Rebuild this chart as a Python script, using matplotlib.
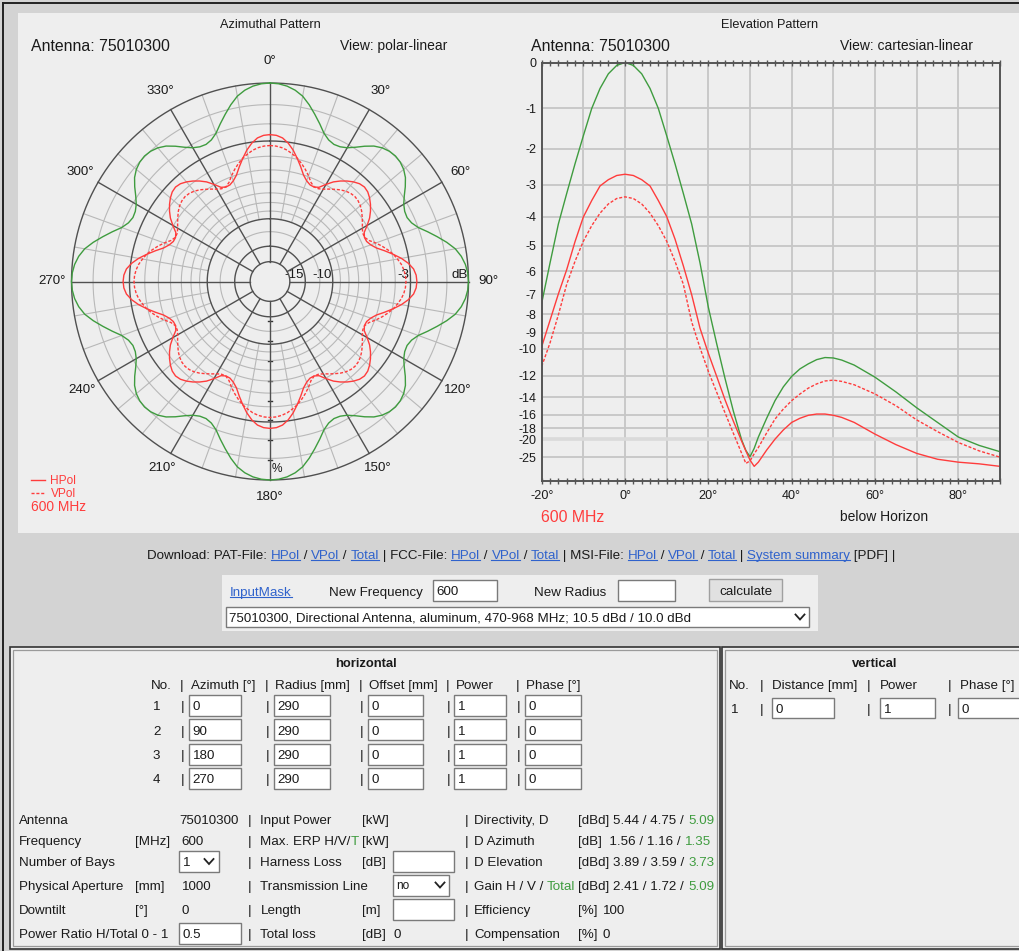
import numpy as np
import matplotlib
matplotlib.use("Agg")
import matplotlib.pyplot as plt
from matplotlib.patches import Rectangle

plt.rcParams['font.family'] = ['Liberation Sans', 'DejaVu Sans']

W, H = 1019, 951

# ---------------------------------------------------------------- data
# Azimuth pattern, relative field, one quadrant (four panels at 0/90/180/270 deg)
az_quadrant_deg = [i * 2.5 for i in range(36)]
az_hpol = [0.740, 0.737, 0.726, 0.703, 0.672, 0.635, 0.598, 0.562, 0.540, 0.527,
           0.525, 0.535, 0.565, 0.595, 0.618, 0.638, 0.655, 0.668, 0.673,
           0.668, 0.655, 0.638, 0.618, 0.595, 0.565, 0.535, 0.525, 0.527, 0.540,
           0.562, 0.598, 0.635, 0.672, 0.703, 0.726, 0.737]
az_vpol = [0.685, 0.683, 0.677, 0.667, 0.652, 0.636, 0.615, 0.592, 0.567, 0.540,
           0.526, 0.527, 0.537, 0.552, 0.567, 0.582, 0.594, 0.602, 0.605,
           0.602, 0.594, 0.582, 0.567, 0.552, 0.537, 0.527, 0.526, 0.540, 0.567,
           0.592, 0.615, 0.636, 0.652, 0.667, 0.677, 0.683]
az_total = [1.000, 0.997, 0.988, 0.972, 0.948, 0.912, 0.872, 0.833, 0.795, 0.772,
            0.762, 0.765, 0.778, 0.802, 0.832, 0.860, 0.879, 0.890, 0.894,
            0.890, 0.879, 0.860, 0.832, 0.802, 0.778, 0.765, 0.762, 0.772, 0.795,
            0.833, 0.872, 0.912, 0.948, 0.972, 0.988, 0.997]

# Elevation pattern, relative field vs. angle below horizon
el_deg = [-20, -18, -16, -14, -12, -10, -8, -6, -4, -2, 0, 2, 4, 6, 8, 10, 12, 14, 16, 18,
          20, 22, 24, 26, 28, 29, 30, 31, 32, 34, 36, 38, 40, 42, 44, 46, 48, 50, 52, 55,
          60, 65, 70, 75, 80, 85, 90]
el_total = [0.425, 0.521, 0.614, 0.687, 0.758, 0.825, 0.890, 0.938, 0.973, 0.993, 1.000,
            0.993, 0.973, 0.938, 0.890, 0.825, 0.758, 0.687, 0.614, 0.521,
            0.415, 0.328, 0.245, 0.167, 0.098, 0.073, 0.058, 0.078, 0.105, 0.150, 0.192,
            0.225, 0.250, 0.268, 0.280, 0.290, 0.295, 0.294, 0.289, 0.277,
            0.248, 0.213, 0.175, 0.140, 0.105, 0.085, 0.070]
el_hpol = [0.321, 0.384, 0.447, 0.505, 0.572, 0.631, 0.670, 0.705, 0.720, 0.730, 0.733,
           0.730, 0.720, 0.705, 0.670, 0.632, 0.578, 0.514, 0.445, 0.365,
           0.305, 0.250, 0.194, 0.143, 0.095, 0.072, 0.050, 0.035, 0.045, 0.074, 0.100,
           0.122, 0.140, 0.150, 0.157, 0.160, 0.160, 0.157, 0.152, 0.140,
           0.112, 0.087, 0.066, 0.052, 0.045, 0.041, 0.035]
el_vpol = [0.274, 0.330, 0.397, 0.470, 0.525, 0.573, 0.610, 0.640, 0.662, 0.675, 0.679,
           0.675, 0.662, 0.640, 0.610, 0.573, 0.525, 0.470, 0.380, 0.318,
           0.262, 0.212, 0.163, 0.114, 0.066, 0.042, 0.048, 0.065, 0.080, 0.115, 0.148,
           0.172, 0.192, 0.208, 0.222, 0.232, 0.239, 0.241, 0.238, 0.230,
           0.208, 0.180, 0.146, 0.118, 0.092, 0.072, 0.057]

el_ytick_db = [0, -1, -2, -3, -4, -5, -6, -7, -8, -9, -10, -12, -14, -16, -18, -20, -25]
el_xticks = [-20, 0, 20, 40, 60, 80]
polar_bold_db = [0, -3, -10, -15, -20]
polar_thin_db = [-1, -2, -4, -5, -6, -7, -8, -9, -12]
polar_label_db = [(-15, '-15'), (-10, '-10'), (-3, '-3'), (0, 'dB')]

# horizontal array table
h_rows = [('1', '0', '290', '0', '1', '0'),
          ('2', '90', '290', '0', '1', '0'),
          ('3', '180', '290', '0', '1', '0'),
          ('4', '270', '290', '0', '1', '0')]

GREEN = '#3f9c3f'
RED = '#ff3c3c'
LINK = '#2f62cc'
TXT = '#1a1a1a'

# ---------------------------------------------------------------- page
fig = plt.figure(figsize=(W / 100, H / 100), dpi=100, facecolor='#d3d3d3')
bg = fig.add_axes([0, 0, 1, 1])
bg.set_xlim(0, W)
bg.set_ylim(H, 0)
bg.axis('off')
renderer = fig.canvas.get_renderer()


def px(pt):
    return pt * 100 / 72


def txt(x, y, s, size=9.6, color=TXT, ha='left', weight='normal'):
    return bg.text(x, y + 0.36 * px(size), s, fontsize=size, color=color, ha=ha,
                   va='baseline', fontweight=weight)


def measure(s, size, weight='normal'):
    a = bg.text(0, 0, '|' + s + '|', fontsize=size, fontweight=weight)
    b = bg.text(0, 0, '||', fontsize=size, fontweight=weight)
    w = a.get_window_extent(renderer).width - b.get_window_extent(renderer).width
    a.remove()
    b.remove()
    return w


def chain(x, y, parts, size=9.6):
    for s, color, link in parts:
        w = measure(s, size)
        txt(x, y, s, size, color)
        if link:
            yu = y + 0.36 * px(size) + 1.6
            bg.plot([x, x + w], [yu, yu], color=color, lw=0.8)
        x += w
    return x


def field(x0, y0, x1, y1, s='', size=9.6):
    bg.add_patch(Rectangle((x0, y0), x1 - x0, y1 - y0, facecolor='white',
                           edgecolor='#7a7a7a', lw=1.0))
    if s:
        txt(x0 + 3.5, (y0 + y1) / 2, s, size)


def chevron(xc, yc):
    bg.plot([xc - 4.5, xc, xc + 4.5], [yc - 2.5, yc + 2.5, yc - 2.5], color='#222', lw=1.3,
            solid_joinstyle='miter')


# frame lines and panels
bg.plot([3, W + 5], [3, 3], color='#222', lw=1.4)
bg.plot([3, 3], [3, H + 5], color='#222', lw=1.4)
bg.add_patch(Rectangle((18.5, 13), W, 520, facecolor='#eeeeee', edgecolor='none'))
bg.add_patch(Rectangle((222, 575), 596, 56, facecolor='#eeeeee', edgecolor='none'))
for x0, x1 in [(10, 720), (722, W + 10)]:
    bg.add_patch(Rectangle((x0, 647), x1 - x0, 302, facecolor='#eeeeee', edgecolor='#333',
                           lw=1.2))
    bg.add_patch(Rectangle((x0 + 3, 650), x1 - x0 - 6, 296, facecolor='none',
                           edgecolor='#9a9a9a', lw=0.9))

# ---------------------------------------------------------------- azimuth (polar)
cx, cy, R = 270, 281.5, 198.5
pax = fig.add_axes([(cx - R) / W, 1 - (cy + R) / H, 2 * R / W, 2 * R / H],
                   projection='polar')
pax.set_theta_zero_location('N')
pax.set_theta_direction(-1)
pax.set_ylim(0, 1)
pax.axis('off')

ring = np.linspace(0, 2 * np.pi, 721)
for d in polar_thin_db:
    pax.plot(ring, np.full_like(ring, 10 ** (d / 20)), color='#b8b8b8', lw=0.8, clip_on=False)
for a in range(0, 360, 10):
    if a % 30:
        pax.plot([np.deg2rad(a)] * 2, [10 ** (-10 / 20), 1], color='#b8b8b8', lw=0.8,
                 clip_on=False)
for d in polar_bold_db:
    pax.plot(ring, np.full_like(ring, 10 ** (d / 20)), color='#505050', lw=1.0, clip_on=False)
for a in range(0, 360, 30):
    pax.plot([np.deg2rad(a)] * 2, [0.1, 1], color='#505050', lw=1.0, clip_on=False)


def full_turn(q_deg, q_val):
    th = np.concatenate([np.array(q_deg) + 90 * k for k in range(4)] + [[360]])
    r = np.concatenate([np.array(q_val)] * 4 + [[q_val[0]]])
    return np.deg2rad(th), r


t, r = full_turn(az_quadrant_deg, az_total)
pax.plot(t, r, color=GREEN, lw=1.0, clip_on=False)
t, r = full_turn(az_quadrant_deg, az_hpol)
pax.plot(t, r, color=RED, lw=1.0)
t, r = full_turn(az_quadrant_deg, az_vpol)
pax.plot(t, r, color=RED, lw=1.0, dashes=(2.2, 1.3))

for a in range(0, 360, 30):
    rr = 1.098 + 0.014 * np.cos(np.deg2rad(a))
    pax.text(np.deg2rad(a), rr, f'{a}°', fontsize=9.6, color=TXT, ha='center', va='center')

for d, lab in polar_label_db:
    txt(cx + R * 10 ** (d / 20) - 1, 273, lab, 9.6, ha='right')
for k in range(2, 10):
    yk = cy + R * k / 10
    bg.plot([cx - 1.5, cx + 2.5], [yk, yk], color='#333', lw=1.0)
txt(276.7, 468, '%', 8.6, ha='center')

txt(270, 23, 'Azimuthal Pattern', 9.2, ha='center')
txt(31.5, 45, 'Antenna: 75010300', 11.4)
txt(340, 45, 'View: polar-linear', 10.0)
bg.plot([31, 45], [479.5, 479.5], color=RED, lw=1.0)
bg.plot([31, 45], [492.5, 492.5], color=RED, lw=1.0, dashes=(2.2, 1.3))
txt(50.5, 479.5, 'HPol', 8.6, color=RED)
txt(50.5, 492.5, 'VPol', 8.6, color=RED)
txt(31, 506.5, '600 MHz', 9.9, color=RED)

# ---------------------------------------------------------------- elevation
ex0, ex1, ey0, ey1 = 541.7, 1000, 62.5, 481
eax = fig.add_axes([ex0 / W, 1 - ey1 / H, (ex1 - ex0) / W, (ey1 - ey0) / H])
eax.set_facecolor('none')
eax.set_xlim(-20, 90)
eax.set_ylim(0, 1)
for s in eax.spines.values():
    s.set_color('#555555')
    s.set_linewidth(1.4)
for x in range(-10, 90, 10):
    eax.axvline(x, color='#c6c6c6', lw=1.3, zorder=0)
for d in el_ytick_db:
    if d == -20:
        eax.axhline(10 ** (d / 20), color='#dadada', lw=2.6, zorder=0)
    else:
        eax.axhline(10 ** (d / 20), color='#c6c6c6', lw=1.3, zorder=0)
eax.set_xticks(el_xticks)
eax.set_xticklabels([f'{v}°' for v in el_xticks])
eax.set_xticks(np.arange(-20, 91, 2), minor=True)
eax.tick_params(axis='x', which='both', top=True, bottom=True, direction='inout',
                length=5, width=1.0, color='#555555', labelsize=9.1, pad=4, labelcolor=TXT)
eax.set_yticks([10 ** (d / 20) for d in el_ytick_db])
eax.set_yticklabels([str(d) for d in el_ytick_db])
eax.tick_params(axis='y', length=0, pad=4, labelsize=9.0, labelcolor=TXT)

eax.plot(el_deg, el_total, color=GREEN, lw=1.0)
eax.plot(el_deg, el_hpol, color=RED, lw=1.0)
eax.plot(el_deg, el_vpol, color=RED, lw=1.0, dashes=(2.2, 1.3))

txt(770, 23, 'Elevation Pattern', 9.2, ha='center')
txt(531.5, 45, 'Antenna: 75010300', 11.4)
txt(840, 45, 'View: cartesian-linear', 10.0)
txt(541.5, 516, '600 MHz', 11.4, color=RED)
txt(840.5, 516, 'below Horizon', 10.0)

# ---------------------------------------------------------------- download line
parts = [('Download: PAT-File: ', TXT, False), ('HPol', LINK, True), (' / ', TXT, False),
         ('VPol', LINK, True), (' / ', TXT, False), ('Total', LINK, True),
         (' | FCC-File: ', TXT, False), ('HPol', LINK, True), (' / ', TXT, False),
         ('VPol', LINK, True), (' / ', TXT, False), ('Total', LINK, True),
         (' | MSI-File: ', TXT, False), ('HPol', LINK, True), (' / ', TXT, False),
         ('VPol', LINK, True), (' / ', TXT, False), ('Total', LINK, True),
         (' | ', TXT, False), ('System summary', LINK, True), (' [PDF] |', TXT, False)]
chain(147, 554, parts, 9.6)

S = 9.6
# ---------------------------------------------------------------- input mask
chain(230, 591, [('InputMask', LINK, True)], S)
txt(329, 591, 'New Frequency', S)
field(433, 580, 497, 601, '600', S)
txt(534, 591, 'New Radius', S)
field(618, 580, 675, 601)
bg.add_patch(Rectangle((709, 579), 73, 22, facecolor='#e1e1e1', edgecolor='#a0a0a0', lw=1.0))
txt(745.5, 590, 'calculate', S, ha='center')
field(226, 607, 809, 627,
      '75010300, Directional Antenna, aluminum, 470-968 MHz; 10.5 dBd / 10.0 dBd', S)
chevron(800, 617)

# ---------------------------------------------------------------- horizontal table
txt(366, 662, 'horizontal', 9.4, ha='center', weight='bold')
hy = 684
for x, s in [(151, 'No.'), (180, '|'), (191, 'Azimuth [°]'), (265, '|'), (275, 'Radius [mm]'),
             (359, '|'), (369, 'Offset [mm]'), (446, '|'), (456, 'Power'), (516, '|'),
             (526, 'Phase [°]')]:
    txt(x, hy, s, S)
cols = [(189, 241), (274, 330), (368, 423), (454, 506), (525, 581)]
pipes = [181, 266, 360, 447, 517]
for i, row in enumerate(h_rows):
    yc = 705.5 + i * 24.3
    txt(153, yc, row[0], S)
    for (x0, x1), p, val in zip(cols, pipes, row[1:]):
        txt(p, yc, '|', S)
        field(x0, yc - 10.5, x1, yc + 10.5, val, S)

# ---------------------------------------------------------------- summary block
ry = [819, 840, 861.5, 885, 909, 933]
left_labels = ['Antenna', 'Frequency', 'Number of Bays', 'Physical Aperture', 'Downtilt',
               'Power Ratio H/Total 0 - 1']
for y, s in zip(ry, left_labels):
    txt(19, y, s, S)
txt(179, ry[0], '75010300', S)
txt(135, ry[1], '[MHz]', S)
txt(181.5, ry[1], '600', S)
field(179, ry[2] - 10.5, 219, ry[2] + 10.5, '1', S)
chevron(209, ry[2])
txt(135, ry[3], '[mm]', S)
txt(181.5, ry[3], '1000', S)
txt(135, ry[4], '[°]', S)
txt(181.5, ry[4], '0', S)
field(179, ry[5] - 10.5, 241, ry[5] + 10.5, '0.5', S)

mid = ['Input Power', 'Max. ERP H/V/', 'Harness Loss', 'Transmission Line', 'Length',
       'Total loss']
for y, s in zip(ry, mid):
    txt(248, y, '|', S)
    txt(260.5, y, s, S)
chain(260.5 + measure('Max. ERP H/V/', S), ry[1], [('T', GREEN, False)], S)
txt(362, ry[0], '[kW]', S)
txt(362, ry[1], '[kW]', S)
txt(362, ry[2], '[dB]', S)
field(393, ry[2] - 10.5, 454, ry[2] + 10.5)
field(393, ry[3] - 10.5, 449, ry[3] + 10.5, 'no', 8.6)
chevron(440, ry[3])
txt(362, ry[4], '[m]', S)
field(393, ry[4] - 10.5, 454, ry[4] + 10.5)
txt(362, ry[5], '[dB]', S)
txt(394, ry[5], '0', S)

right = [('Directivity, D', '[dBd] 5.44 / 4.75 / ', '5.09'),
         ('D Azimuth', '[dB]  1.56 / 1.16 / ', '1.35'),
         ('D Elevation', '[dBd] 3.89 / 3.59 / ', '3.73'),
         (None, '[dBd] 2.41 / 1.72 / ', '5.09')]
for y, (lab, vals, green) in zip(ry, right):
    txt(465, y, '|', S)
    if lab:
        txt(474, y, lab, S)
    else:
        chain(474, y, [('Gain H / V / ', TXT, False), ('Total', GREEN, False)], S)
    chain(578.5, y, [(vals, TXT, False), (green, GREEN, False)], S)
for y, lab, val in [(ry[4], 'Efficiency', '100'), (ry[5], 'Compensation', '0')]:
    txt(465, y, '|', S)
    txt(474, y, lab, S)
    txt(578.5, y, '[%]', S)
    txt(603, y, val, S)

# ---------------------------------------------------------------- vertical table
txt(875, 662, 'vertical', 9.4, ha='center', weight='bold')
for x, s in [(729, 'No.'), (760, '|'), (772, 'Distance [mm]'), (867, '|'), (880, 'Power'),
             (948, '|'), (960, 'Phase [°]')]:
    txt(x, 684, s, S)
txt(731, 708, '1', S)
for p, (x0, x1), val in [(760, (772, 834), '0'), (867, (880, 935), '1'),
                         (948, (958, 1030), '0')]:
    txt(p, 708, '|', S)
    field(x0, 698, x1, 718, val, S)

fig.savefig('out.png', dpi=100, facecolor=fig.get_facecolor())
